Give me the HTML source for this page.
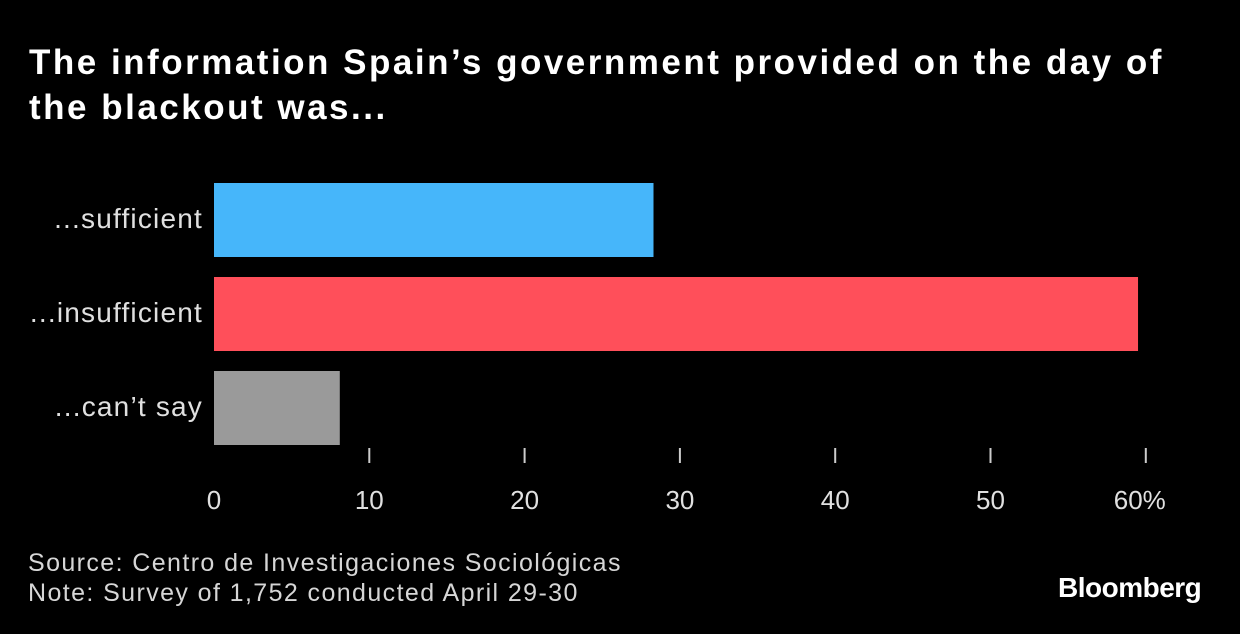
<!DOCTYPE html>
<html><head><meta charset="utf-8"><style>
html,body{margin:0;padding:0;background:#000;}
body{width:1240px;height:634px;overflow:hidden;position:relative;font-family:"Liberation Sans",sans-serif;color:#fff;}
#title{position:absolute;left:29px;top:40px;font-size:35px;font-weight:bold;line-height:45px;letter-spacing:2.5px;}
.foot{position:absolute;left:28px;font-size:25px;color:#d6d6d6;letter-spacing:1.4px;}
#logo{position:absolute;left:1058px;top:572px;font-size:28px;font-weight:bold;letter-spacing:-0.5px;}
</style></head><body>
<div id="title">The information Spain’s government provided on the day of<br>the blackout was...</div>
<svg id="chart" width="1240" height="634" style="position:absolute;left:0;top:0"></svg>
<div class="foot" style="top:549px">Source: Centro de Investigaciones Sociológicas</div>
<div class="foot" style="top:579px">Note: Survey of 1,752 conducted April 29-30</div>
<div id="logo">Bloomberg</div>
<script>
const categories = ["...sufficient", "...insufficient", "...can’t say"];
const values = [28.3, 59.5, 8.1];
const colors = ["#46b6fa", "#ff4f5a", "#9a9a9a"];
const ticks = [0, 10, 20, 30, 40, 50, 60];
const tickLabels = ["0", "10", "20", "30", "40", "50", "60%"];
const NS = "http://www.w3.org/2000/svg";
const svg = document.getElementById("chart");
const x = v => 214 + v * 15.53;
const y = i => 183 + i * 94;
function mk(tag, attrs){const e=document.createElementNS(NS,tag);for(const k in attrs)e.setAttribute(k,attrs[k]);svg.appendChild(e);return e;}
categories.forEach((c,i)=>{
  const r = mk("rect",{x:x(0),y:y(i),width:x(values[i])-x(0),height:74,fill:colors[i]});
  
  
  const t = mk("text",{x:203,y:y(i)+45,"text-anchor":"end","font-size":28,"letter-spacing":1.2,fill:"#e0e0e0","font-family":"Liberation Sans, sans-serif"});
  t.textContent = c;
  
  
});
ticks.forEach((v,i)=>{
  if(i>0){
    const l = mk("line",{x1:x(v),x2:x(v),y1:448,y2:463,stroke:"#ccc","stroke-width":2});
    
    
  }
  const t = mk("text",{x:x(v)+(i==6?-6:0),y:509,"text-anchor":"middle","font-size":26,fill:"#e0e0e0","font-family":"Liberation Sans, sans-serif"});
  t.textContent = tickLabels[i];
  
  
});
</script>
</body></html>
